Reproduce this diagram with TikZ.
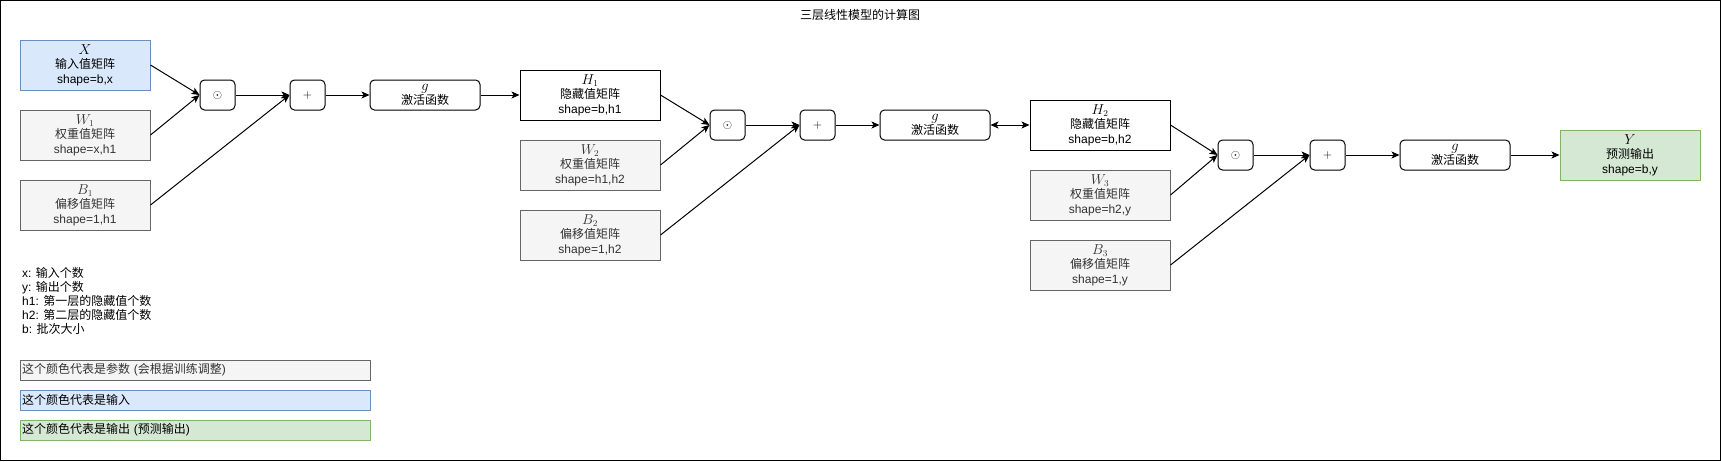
\documentclass[tikz,border=0pt]{standalone}
\usepackage{fontspec}
\setmainfont{Liberation Sans}
\newfontfamily\cjk{Noto Sans CJK SC}
\usetikzlibrary{arrows.meta}
\definecolor{pgray}{HTML}{F5F5F5}
\definecolor{pgrayb}{HTML}{666666}
\definecolor{pgrayt}{HTML}{333333}
\definecolor{pblue}{HTML}{DAE8FC}
\definecolor{pblueb}{HTML}{6C8EBF}
\definecolor{pgreen}{HTML}{D5E8D4}
\definecolor{pgreenb}{HTML}{82B366}
\newcommand\mv[1]{{\fontsize{13.5}{14.5}\selectfont$#1$}}
\begin{document}
\begin{tikzpicture}[x=1pt,y=-1pt,
  every node/.style={font=\fontsize{12}{14.5}\selectfont},
  mat/.style={draw, line width=1pt, minimum width=140pt, minimum height=50pt, inner sep=0pt, align=center, fill=white},
  param/.style={mat, fill=pgray, draw=pgrayb, text=pgrayt},
  inbox/.style={mat, fill=pblue, draw=pblueb},
  outbox/.style={mat, fill=pgreen, draw=pgreenb},
  opbox/.style={draw, line width=1pt, rounded corners=4.5pt, minimum width=35pt, minimum height=30pt, inner sep=0pt, fill=white, align=center},
  actbox/.style={opbox, minimum width=110pt},
  legend/.style={draw, line width=1pt, minimum height=20pt, text width=346pt, inner sep=2pt, align=left},
  arr/.style={line width=1pt, -{Stealth[length=8pt,width=7pt,inset=2pt]}},
  darr/.style={line width=1pt, {Stealth[length=8pt,width=7pt,inset=2pt]}-{Stealth[length=8pt,width=7pt,inset=2pt]}}
]
\useasboundingbox (0,0) rectangle (1721,461);
\draw[line width=1pt] (0.5,0.5) rectangle (1720.5,460.5);

\node (title) at (860,14.5) {\cjk 三层线性模型的计算图};

% stage 1
\node[inbox, minimum width=130pt] (X) at (85,65) {\mv{X}\\{\cjk 输入值矩阵}\\shape=b,x};
\node[param, minimum width=130pt] (W1) at (85,135) {\mv{W_1}\\{\cjk 权重值矩阵}\\shape=x,h1};
\node[param, minimum width=130pt] (B1) at (85,205) {\mv{B_1}\\{\cjk 偏移值矩阵}\\shape=1,h1};
\node[opbox] (dot1) at (217.5,95) {$\odot$};
\node[opbox] (add1) at (307.5,95) {$+$};
\node[actbox] (g1) at (425,95) {\mv{g}\\{\cjk 激活函数}};

% stage 2
\node[mat] (H1) at (590,95) {\mv{H_1}\\{\cjk 隐藏值矩阵}\\shape=b,h1};
\node[param] (W2) at (590,165) {\mv{W_2}\\{\cjk 权重值矩阵}\\shape=h1,h2};
\node[param] (B2) at (590,235) {\mv{B_2}\\{\cjk 偏移值矩阵}\\shape=1,h2};
\node[opbox] (dot2) at (727.5,125) {$\odot$};
\node[opbox] (add2) at (817.5,125) {$+$};
\node[actbox] (g2) at (935,125) {\mv{g}\\{\cjk 激活函数}};

% stage 3
\node[mat] (H2) at (1100,125) {\mv{H_2}\\{\cjk 隐藏值矩阵}\\shape=b,h2};
\node[param] (W3) at (1100,195) {\mv{W_3}\\{\cjk 权重值矩阵}\\shape=h2,y};
\node[param] (B3) at (1100,265) {\mv{B_3}\\{\cjk 偏移值矩阵}\\shape=1,y};
\node[opbox] (dot3) at (1235.5,155) {$\odot$};
\node[opbox] (add3) at (1327.5,155) {$+$};
\node[actbox] (g3) at (1455,155) {\mv{g}\\{\cjk 激活函数}};
\node[outbox] (Y) at (1630,155) {\mv{Y}\\{\cjk 预测输出}\\shape=b,y};

% edges
\draw[arr] (X.east) -- (dot1.west);
\draw[arr] (W1.east) -- (dot1.west);
\draw[arr] (dot1.east) -- (add1.west);
\draw[arr] (B1.east) -- (add1.west);
\draw[arr] (add1.east) -- (g1.west);
\draw[arr] (g1.east) -- (H1.west);

\draw[arr] (H1.east) -- (dot2.west);
\draw[arr] (W2.east) -- (dot2.west);
\draw[arr] (dot2.east) -- (add2.west);
\draw[arr] (B2.east) -- (add2.west);
\draw[arr] (add2.east) -- (g2.west);
\draw[darr] (g2.east) -- (H2.west);

\draw[arr] (H2.east) -- (dot3.west);
\draw[arr] (W3.east) -- (dot3.west);
\draw[arr] (dot3.east) -- (add3.west);
\draw[arr] (B3.east) -- (add3.west);
\draw[arr] (add3.east) -- (g3.west);
\draw[arr] (g3.east) -- (Y.west);

% key
\node[anchor=west, align=left, inner sep=0pt, font=\fontsize{12}{14}\selectfont] (keys) at (22,301)
  {x: {\cjk 输入个数}\\y: {\cjk 输出个数}\\h1: {\cjk 第一层的隐藏值个数}\\h2: {\cjk 第二层的隐藏值个数}\\b: {\cjk 批次大小}};

\node[legend, fill=pgray, draw=pgrayb, text=pgrayt] (lg1) at (195,370) {{\cjk 这个颜色代表是参数} ({\cjk 会根据训练调整})};
\node[legend, fill=pblue, draw=pblueb] (lg2) at (195,400) {\cjk 这个颜色代表是输入};
\node[legend, fill=pgreen, draw=pgreenb] (lg3) at (195,430) {{\cjk 这个颜色代表是输出} ({\cjk 预测输出})};
\end{tikzpicture}
\end{document}
